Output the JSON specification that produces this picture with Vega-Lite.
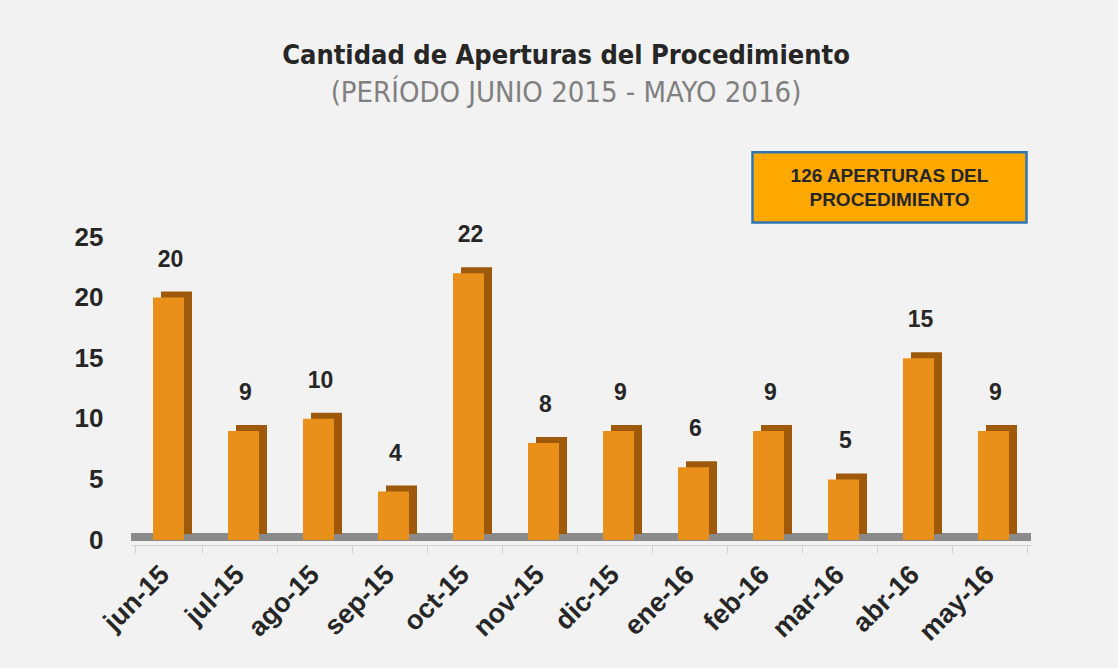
{
  "$schema": "https://vega.github.io/schema/vega-lite/v6.json",
  "width": 900,
  "height": 303,
  "autosize": {"type": "none"},
  "padding": {"left": 131, "top": 237, "right": 87, "bottom": 128},
  "background": "#f2f2f2",
  "title": {
    "text": "Cantidad de Aperturas del Procedimiento",
    "subtitle": "(PERÍODO JUNIO 2015 - MAYO 2016)",
    "anchor": "middle",
    "dx": -15,
    "offset": 42,
    "font": "Liberation Sans Narrow, DejaVu Sans Condensed, sans-serif",
    "fontSize": 27,
    "fontWeight": "bold",
    "color": "#262626",
    "subtitleFont": "Liberation Sans Narrow, DejaVu Sans Condensed, sans-serif",
    "subtitleFontSize": 29,
    "subtitleColor": "#808080",
    "subtitlePadding": 9
  },
  "datasets": {
    "months": [
      {"mes": "jun-15", "aperturas": 20},
      {"mes": "jul-15", "aperturas": 9},
      {"mes": "ago-15", "aperturas": 10},
      {"mes": "sep-15", "aperturas": 4},
      {"mes": "oct-15", "aperturas": 22},
      {"mes": "nov-15", "aperturas": 8},
      {"mes": "dic-15", "aperturas": 9},
      {"mes": "ene-16", "aperturas": 6},
      {"mes": "feb-16", "aperturas": 9},
      {"mes": "mar-16", "aperturas": 5},
      {"mes": "abr-16", "aperturas": 15},
      {"mes": "may-16", "aperturas": 9}
    ],
    "note": [
      {"mes": "mar-16", "top": 32.0, "bottom": 26.2, "mid": 30.0, "label": ["126 APERTURAS DEL", "PROCEDIMIENTO"]}
    ]
  },
  "encoding": {
    "x": {
      "field": "mes",
      "type": "nominal",
      "sort": null,
      "scale": {"domain": ["jun-15","jul-15","ago-15","sep-15","oct-15","nov-15","dic-15","ene-16","feb-16","mar-16","abr-16","may-16"]},
      "axis": {
        "title": null,
        "labelAngle": -45,
        "labelFont": "Liberation Sans, Arial, sans-serif",
        "labelFontSize": 27,
        "labelFontWeight": "bold",
        "labelColor": "#262626",
        "labelPadding": 8,
        "labelOffset": -13,
        "domainColor": "#d0d0d0",
        "tickColor": "#d0d0d0",
        "tickBand": "extent",
        "tickSize": 8,
        "offset": 5
      }
    }
  },
  "layer": [
    {
      "data": {"name": "months"},
      "mark": {"type": "rule", "color": "#8a8a8a", "strokeWidth": 8, "opacity": 0.4, "yOffset": -3},
      "encoding": {"x": null, "y": {"datum": 0, "type": "quantitative"}}
    },
    {
      "data": {"name": "months"},
      "mark": {"type": "bar", "width": 31, "color": "#9e5a0a", "xOffset": 8, "yOffset": -6},
      "encoding": {
        "y": {
          "field": "aperturas",
          "type": "quantitative",
          "scale": {"domain": [0, 25], "nice": false},
          "axis": {
            "title": null,
            "values": [0, 5, 10, 15, 20, 25],
            "labelFont": "Liberation Sans, Arial, sans-serif",
            "labelFontSize": 26,
            "labelFontWeight": "bold",
            "labelColor": "#262626",
            "labelPadding": 28,
            "domain": false,
            "ticks": false,
            "gridColor": "#dcdcdc",
            "gridWidth": 2
          }
        }
      }
    },
    {
      "data": {"name": "months"},
      "mark": {"type": "bar", "width": 31, "color": "#e8901a"},
      "encoding": {"y": {"field": "aperturas", "type": "quantitative"}}
    },
    {
      "data": {"name": "months"},
      "mark": {"type": "text", "dy": -26, "baseline": "bottom", "font": "Liberation Sans, Arial, sans-serif", "fontSize": 23, "fontWeight": "bold", "color": "#262626", "xOffset": 2},
      "encoding": {
        "y": {"field": "aperturas", "type": "quantitative"},
        "text": {"field": "aperturas", "type": "quantitative"}
      }
    },
    {
      "data": {"name": "note"},
      "mark": {"type": "bar", "width": 274, "xOffset": 46, "color": "#ffa800", "stroke": "#2e75b6", "strokeWidth": 2.5, "clip": false},
      "encoding": {
        "y": {"field": "top", "type": "quantitative"},
        "y2": {"field": "bottom"}
      }
    },
    {
      "data": {"name": "note"},
      "mark": {"type": "text", "xOffset": 46, "font": "Liberation Sans, Arial, sans-serif", "fontSize": 19, "fontWeight": "bold", "color": "#262626", "lineHeight": 24, "baseline": "middle"},
      "encoding": {
        "y": {"field": "mid", "type": "quantitative"},
        "text": {"field": "label"}
      }
    }
  ],
  "config": {"view": {"stroke": null}}
}
